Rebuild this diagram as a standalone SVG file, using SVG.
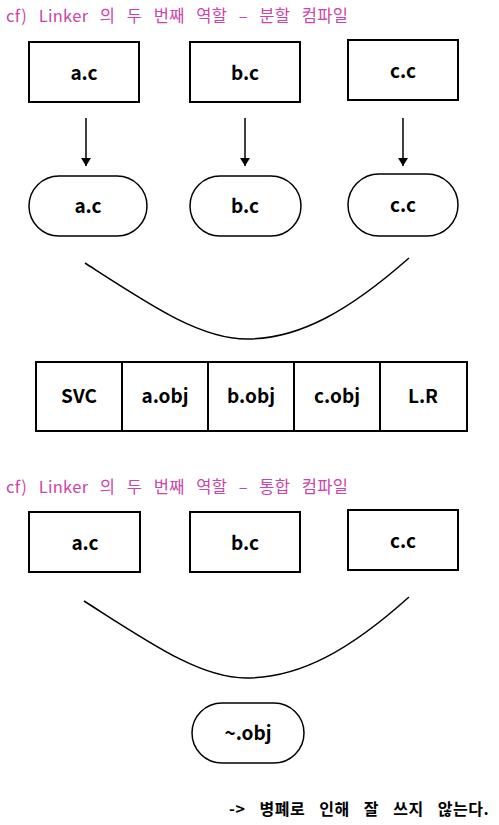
<svg xmlns="http://www.w3.org/2000/svg" width="499" height="825" viewBox="0 0 499 825">
<style>
.box{fill:#fff;stroke:#000;stroke-width:2}
.pill{fill:#fff;stroke:#000;stroke-width:1.5}
.lbl{font-family:"Noto Sans CJK KR","Noto Sans",sans-serif;font-weight:bold;font-size:19px;text-anchor:middle;fill:#000}
.title{font-family:"Noto Sans CJK KR","Noto Sans",sans-serif;font-size:16.5px;fill:#cc44aa;letter-spacing:0.3px;word-spacing:7.5px}
.conn{fill:none;stroke:#000;stroke-width:1.5}
</style>
<defs>
<marker id="ah" markerWidth="8" markerHeight="10" refX="8" refY="5" orient="auto" markerUnits="userSpaceOnUse">
<path d="M0,0 L8,5 L0,10 Z" fill="#000"/>
</marker>
</defs>
<rect width="499" height="825" fill="#fff"/>
<text class="title" x="6" y="22">cf) Linker 의 두 번째 역할 – 분할 컴파일</text>
<g id="src1-a"><rect class="box" x="29" y="42" width="110" height="60"/><text class="lbl" x="84" y="80">a.c</text></g>
<g id="src1-b"><rect class="box" x="190" y="42" width="110" height="60"/><text class="lbl" x="245" y="80">b.c</text></g>
<g id="src1-c"><rect class="box" x="348" y="40" width="110" height="60"/><text class="lbl" x="403" y="78">c.c</text></g>
<g id="obj1-a"><rect class="pill" x="29" y="176" width="118" height="60" rx="30"/><text class="lbl" x="88" y="213">a.c</text></g>
<g id="obj1-b"><rect class="pill" x="190" y="176" width="111" height="60" rx="30"/><text class="lbl" x="245" y="213">b.c</text></g>
<g id="obj1-c"><rect class="pill" x="348" y="174" width="110" height="62" rx="31"/><text class="lbl" x="403" y="212">c.c</text></g>
<g id="exe1">
<rect class="box" x="36" y="362" width="431" height="69"/>
<line x1="122" y1="362" x2="122" y2="431" stroke="#000" stroke-width="2"/>
<line x1="208" y1="362" x2="208" y2="431" stroke="#000" stroke-width="2"/>
<line x1="294" y1="362" x2="294" y2="431" stroke="#000" stroke-width="2"/>
<line x1="380" y1="362" x2="380" y2="431" stroke="#000" stroke-width="2"/>
<text class="lbl" x="79" y="403">SVC</text>
<text class="lbl" x="165" y="403">a.obj</text>
<text class="lbl" x="251" y="403">b.obj</text>
<text class="lbl" x="337" y="403">c.obj</text>
<text class="lbl" x="423" y="403">L.R</text>
</g>
<text class="title" x="6" y="493">cf) Linker 의 두 번째 역할 – 통합 컴파일</text>
<g id="src2-a"><rect class="box" x="29" y="512" width="111" height="60"/><text class="lbl" x="85" y="550">a.c</text></g>
<g id="src2-b"><rect class="box" x="190" y="512" width="110" height="60"/><text class="lbl" x="245" y="550">b.c</text></g>
<g id="src2-c"><rect class="box" x="348" y="510" width="110" height="60"/><text class="lbl" x="403" y="548">c.c</text></g>
<g id="obj2"><rect class="pill" x="192" y="703" width="112" height="60" rx="30"/><text class="lbl" x="248" y="740">~.obj</text></g>
<g id="connectors">
<line class="conn" x1="86" y1="118" x2="86" y2="166" marker-end="url(#ah)"/>
<line class="conn" x1="245" y1="118" x2="245" y2="166" marker-end="url(#ah)"/>
<line class="conn" x1="403" y1="118" x2="403" y2="166" marker-end="url(#ah)"/>
<path class="conn" d="M85,263 C150,305 200,339 247,339 C300,339 350,310 409,258"/>
<path class="conn" d="M84,601 C150,643 200,678 246,678 C300,678 350,650 409,597"/>
</g>
<text x="229" y="815" font-family="'Noto Sans CJK KR','Noto Sans',sans-serif" font-size="16" font-weight="bold" fill="#000" letter-spacing="0.5" word-spacing="10">-&gt; 병폐로 인해 잘 쓰지 않는다.</text>
</svg>
